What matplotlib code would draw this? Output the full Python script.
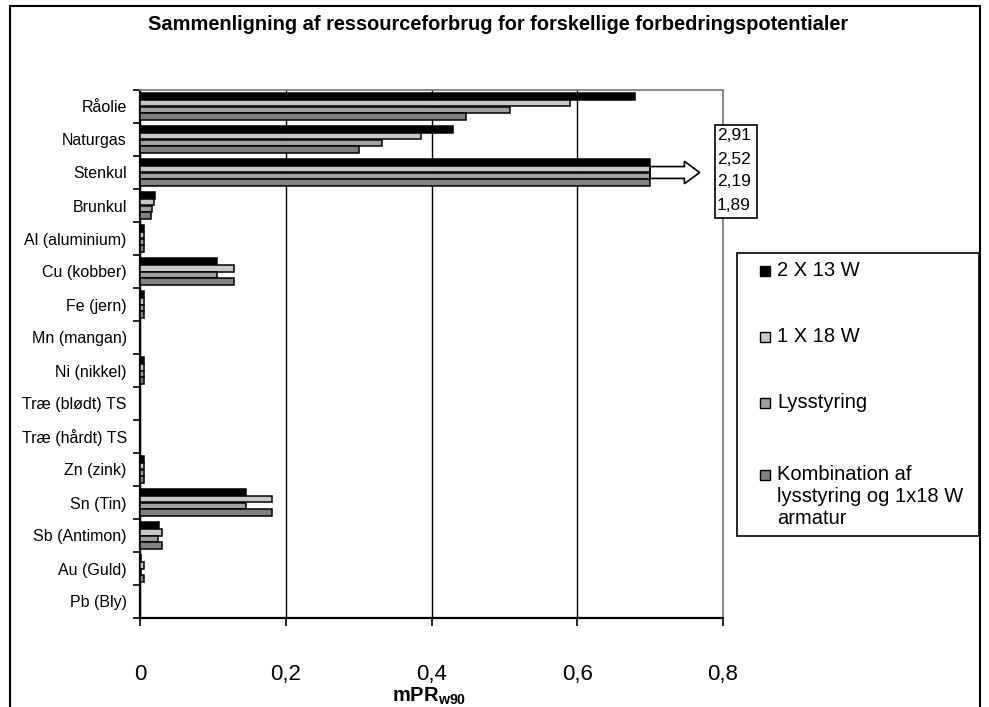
import numpy as np
import matplotlib
matplotlib.use("Agg")
import matplotlib.pyplot as plt
from matplotlib.patches import Rectangle, FancyArrow

plt.rcParams['font.family'] = ['Liberation Sans', 'DejaVu Sans']
plt.rcParams['mathtext.fontset'] = 'custom'
plt.rcParams['mathtext.rm'] = 'Liberation Sans'
plt.rcParams['mathtext.bf'] = 'Liberation Sans:bold'

# data
categories = ['Råolie', 'Naturgas', 'Stenkul', 'Brunkul', 'Al (aluminium)',
              'Cu (kobber)', 'Fe (jern)', 'Mn (mangan)', 'Ni (nikkel)',
              'Træ (blødt) TS', 'Træ (hårdt) TS', 'Zn (zink)', 'Sn (Tin)',
              'Sb (Antimon)', 'Au (Guld)', 'Pb (Bly)']
series_names = ['2 X 13 W', '1 X 18 W', 'Lysstyring',
                'Kombination af\nlysstyring og 1x18 W\narmatur']
val_2x13 = [0.679, 0.429, 2.91, 0.020, 0.006, 0.105, 0.006, 0.0, 0.006,
            0.0, 0.0, 0.006, 0.145, 0.0255, 0.001, 0.0]
val_1x18 = [0.590, 0.385, 2.52, 0.0195, 0.006, 0.129, 0.006, 0.0, 0.006,
            0.0, 0.0, 0.006, 0.181, 0.030, 0.006, 0.0]
val_lys = [0.508, 0.332, 2.19, 0.017, 0.006, 0.105, 0.006, 0.0, 0.006,
           0.0, 0.0, 0.006, 0.145, 0.025, 0.001, 0.0]
val_komb = [0.448, 0.300, 1.89, 0.0145, 0.006, 0.129, 0.006, 0.0, 0.006,
            0.0, 0.0, 0.006, 0.181, 0.030, 0.006, 0.0]
colors = ['#000000', '#c8c8c8', '#a0a0a0', '#808080']
x_ticks = [0, 0.2, 0.4, 0.6, 0.8]
x_break = 0.70   # bars longer than this are cut and marked with an arrow

W, H = 989, 707
fig = plt.figure(figsize=(W / 100, H / 100), dpi=100)

# outer chart frame
fig.patches.append(Rectangle((10 / W, -0.02), 970 / W, 1.02 - 6 / H,
                             transform=fig.transFigure, fill=False,
                             ec='black', lw=1.5))

ax = fig.add_axes([140 / W, 1 - 618 / H, 583 / W, 528 / H])

all_vals = [val_2x13, val_1x18, val_lys, val_komb]
y = np.arange(len(categories))
bh = 0.2
for k, vals in enumerate(all_vals):
    v = np.minimum(np.array(vals), x_break)
    ax.barh(y - 0.3 + k * bh, v, height=bh, color=colors[k],
            edgecolor='black', linewidth=1.1, zorder=3)

# arrow for the cut Stenkul bars
i_st = categories.index('Stenkul')
ax.add_patch(FancyArrow(x_break, i_st, 0.068, 0, width=0.36,
                        head_width=0.68, head_length=0.021,
                        length_includes_head=True, fc='white',
                        ec='black', lw=1.2, zorder=4))

# box with the real Stenkul values
fig.patches.append(Rectangle((715 / W, 1 - 218 / H), 42 / W, 93 / H,
                             transform=fig.transFigure, fc='white',
                             ec='black', lw=1.2, zorder=5))
for k, vals in enumerate(all_vals):
    fig.text(717 / W, 1 - (136 + 23 * k) / H,
             f"{vals[i_st]:.2f}".replace('.', ','), fontsize=12.5,
             va='center', ha='left', zorder=6)

ax.set_xlim(0, 0.8)
ax.set_ylim(len(categories) - 0.5, -0.5)
ax.set_xticks(x_ticks)
ax.set_xticklabels([str(t).replace('.', ',') if t else '0' for t in x_ticks],
                   fontsize=16)
ax.tick_params(axis='x', direction='out', length=6, width=1.2, pad=27)
ax.set_yticks(y)
ax.set_yticklabels(categories, fontsize=11.5)
ax.set_yticks(np.arange(-0.5, len(categories), 1), minor=True)
ax.tick_params(axis='y', which='major', length=0, pad=9.5)
ax.tick_params(axis='y', which='minor', direction='out', length=5, width=1.2)

ax.xaxis.grid(True, color='black', lw=1.0)
ax.set_axisbelow(True)
for s in ['left', 'bottom']:
    ax.spines[s].set_color('black')
    ax.spines[s].set_linewidth(1.6)
for s in ['top', 'right']:
    ax.spines[s].set_color('#808080')
    ax.spines[s].set_linewidth(1.3)

fig.text(429 / W, 1 - 702 / H, r'$\mathbf{mPR}_{\mathbf{w90}}$',
         fontsize=14.5, ha='center', va='baseline')

fig.text(498 / W, 1 - 24 / H,
         'Sammenligning af ressourceforbrug for forskellige forbedringspotentialer',
         ha='center', va='center', fontsize=14.4, fontweight='bold')

# legend, drawn like the Excel one (marker at the first text line)
fig.patches.append(Rectangle((737 / W, 1 - 536 / H), 242 / W, 283 / H,
                             transform=fig.transFigure, fc='white',
                             ec='black', lw=1.2))
leg_y = [271, 337, 403, 475]
for k, name in enumerate(series_names):
    fig.patches.append(Rectangle((760 / W, 1 - (leg_y[k] + 5) / H), 10 / W,
                                 10 / H, transform=fig.transFigure,
                                 fc=colors[k], ec='black', lw=1.0))
    fig.text(777 / W, 1 - (leg_y[k] - 10) / H, name, fontsize=14.5,
             ha='left', va='top', linespacing=1.2)

fig.savefig('out.png', dpi=100)
